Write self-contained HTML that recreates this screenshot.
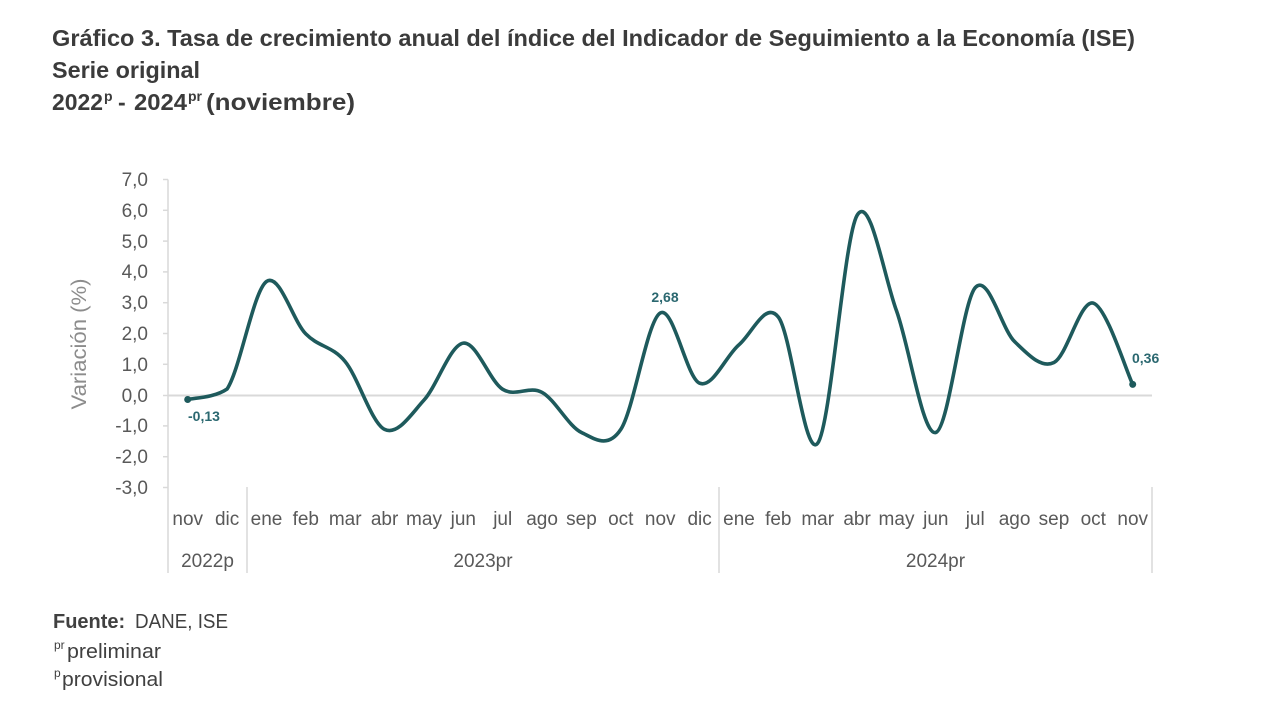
<!DOCTYPE html>
<html><head><meta charset="utf-8"><style>
html,body{margin:0;padding:0;background:#fff;}
svg{display:block;}
text{font-family:"Liberation Sans",Arial,sans-serif;}
</style></head><body>
<svg width="1280" height="708" viewBox="0 0 1280 708" xmlns="http://www.w3.org/2000/svg">
<rect width="1280" height="708" fill="#fff"/>
<!-- Title -->
<g fill="#3b3b3b" font-weight="bold" font-size="23">
<text x="52" y="46" textLength="1083" lengthAdjust="spacingAndGlyphs">Gráfico 3. Tasa de crecimiento anual del índice del Indicador de Seguimiento a la Economía (ISE)</text>
<text x="52" y="78" textLength="148" lengthAdjust="spacingAndGlyphs">Serie original</text>
<text x="52" y="110" textLength="51" lengthAdjust="spacingAndGlyphs">2022</text>
<text x="104" y="101" font-size="14">p</text>
<text x="118" y="110">-</text>
<text x="134" y="110" textLength="53" lengthAdjust="spacingAndGlyphs">2024</text>
<text x="188" y="101" font-size="14">pr</text>
<text x="206" y="110" textLength="149" lengthAdjust="spacingAndGlyphs">(noviembre)</text>
</g>
<!-- axis title -->
<text transform="translate(86,344) rotate(-90)" text-anchor="middle" font-size="21" fill="#8c8c8c" textLength="131" lengthAdjust="spacingAndGlyphs">Variación (%)</text>
<!-- axes -->
<g stroke="#d9d9d9" stroke-width="1.5" fill="none">
<line x1="168" y1="179.5" x2="168" y2="573"/>
<line x1="247" y1="487" x2="247" y2="573"/>
<line x1="719" y1="487" x2="719" y2="573"/>
<line x1="1152" y1="487" x2="1152" y2="573"/>
<line x1="163" y1="179.5" x2="168" y2="179.5"/>
<line x1="163" y1="210.3" x2="168" y2="210.3"/>
<line x1="163" y1="241.1" x2="168" y2="241.1"/>
<line x1="163" y1="271.9" x2="168" y2="271.9"/>
<line x1="163" y1="302.7" x2="168" y2="302.7"/>
<line x1="163" y1="333.5" x2="168" y2="333.5"/>
<line x1="163" y1="364.3" x2="168" y2="364.3"/>
<line x1="163" y1="395.5" x2="168" y2="395.5"/>
<line x1="163" y1="425.9" x2="168" y2="425.9"/>
<line x1="163" y1="456.7" x2="168" y2="456.7"/>
<line x1="163" y1="487.5" x2="168" y2="487.5"/>
</g>
<line x1="168" y1="395.5" x2="1152" y2="395.5" stroke="#d9d9d9" stroke-width="2"/>
<!-- y tick labels -->
<g font-size="19" fill="#595959" text-anchor="end">
<text x="148" y="186">7,0</text>
<text x="148" y="217">6,0</text>
<text x="148" y="248">5,0</text>
<text x="148" y="278">4,0</text>
<text x="148" y="309">3,0</text>
<text x="148" y="340">2,0</text>
<text x="148" y="371">1,0</text>
<text x="148" y="402">0,0</text>
<text x="148" y="432">-1,0</text>
<text x="148" y="463">-2,0</text>
<text x="148" y="494">-3,0</text>
</g>
<!-- month labels -->
<g font-size="19" fill="#595959" text-anchor="middle">
<text x="187.7" y="525">nov</text>
<text x="227.1" y="525">dic</text>
<text x="266.5" y="525">ene</text>
<text x="305.8" y="525">feb</text>
<text x="345.2" y="525">mar</text>
<text x="384.6" y="525">abr</text>
<text x="424.0" y="525">may</text>
<text x="463.3" y="525">jun</text>
<text x="502.7" y="525">jul</text>
<text x="542.1" y="525">ago</text>
<text x="581.5" y="525">sep</text>
<text x="620.8" y="525">oct</text>
<text x="660.2" y="525">nov</text>
<text x="699.6" y="525">dic</text>
<text x="739.0" y="525">ene</text>
<text x="778.3" y="525">feb</text>
<text x="817.7" y="525">mar</text>
<text x="857.1" y="525">abr</text>
<text x="896.5" y="525">may</text>
<text x="935.8" y="525">jun</text>
<text x="975.2" y="525">jul</text>
<text x="1014.6" y="525">ago</text>
<text x="1054.0" y="525">sep</text>
<text x="1093.3" y="525">oct</text>
<text x="1132.7" y="525">nov</text>
<text x="207.5" y="567">2022p</text>
<text x="483" y="567">2023pr</text>
<text x="935.5" y="567">2024pr</text>
</g>
<!-- series -->
<path fill="none" stroke="#1e5a5c" stroke-width="3.6" stroke-linecap="round" stroke-linejoin="round" d="M187.7,399.5 C194.3,397.8 214.0,398 227.1,389 C240.2,369.3 253.4,290.7 266.5,281.5 C279.6,272.3 292.7,320.6 305.8,333.9 C318.9,347.3 332.1,345.7 345.2,361.6 C358.3,377.5 371.5,423.0 384.6,429.4 C397.7,435.8 410.9,414.5 424.0,400.1 C437.1,385.7 450.2,344.9 463.3,343.1 C476.4,341.3 489.6,381.1 502.7,389.3 C515.8,397.5 529.0,385.2 542.1,392.4 C555.2,399.6 568.4,426.3 581.5,432.5 C594.6,438.7 607.7,449.3 620.8,429.4 C633.9,409.5 647.1,320.7 660.2,313.0 C673.3,305.3 686.5,377.9 699.6,383.2 C712.7,388.5 725.9,355.7 739.0,344.7 C752.1,333.7 765.2,300.6 778.3,317.0 C791.4,333.4 804.6,460.2 817.7,443.2 C830.8,426.3 844.0,237.4 857.1,215.3 C870.2,193.2 883.4,274.6 896.5,310.8 C909.6,347.0 922.7,436.4 935.8,432.5 C948.9,428.7 962.1,302.9 975.2,287.7 C988.3,272.6 1001.5,329.1 1014.6,341.6 C1027.7,354.1 1040.9,368.9 1054.0,362.5 C1067.1,356.1 1080.2,299.5 1093.3,303.1 C1106.4,306.8 1126.1,370.9 1132.7,384.4"/>
<circle cx="187.7" cy="399.5" r="3.5" fill="#1e5a5c"/>
<circle cx="1132.7" cy="384.4" r="3.5" fill="#1e5a5c"/>
<!-- data labels -->
<g font-size="14" font-weight="bold" fill="#2b6870">
<text x="188" y="421">-0,13</text>
<text x="665" y="302" text-anchor="middle">2,68</text>
<text x="1132" y="363">0,36</text>
</g>
<!-- footer -->
<g fill="#404040" font-size="20">
<text x="53" y="628"><tspan font-weight="bold">Fuente:</tspan></text>
<text x="135" y="628" textLength="93" lengthAdjust="spacingAndGlyphs">DANE, ISE</text>
<text x="54" y="649" font-size="12">pr</text>
<text x="67" y="658" textLength="94" lengthAdjust="spacingAndGlyphs">preliminar</text>
<text x="54" y="677" font-size="12">p</text>
<text x="62" y="686" textLength="101" lengthAdjust="spacingAndGlyphs">provisional</text>
</g>
</svg>
</body></html>
